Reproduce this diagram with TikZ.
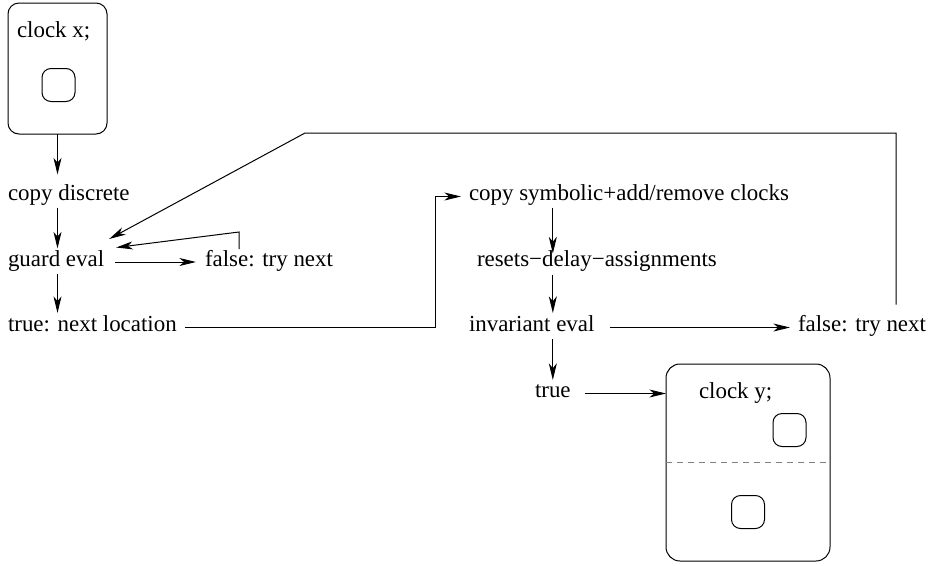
\documentclass[tikz,border=0pt]{standalone}
\usepackage{fontspec}
\setmainfont{Liberation Serif}
\usetikzlibrary{arrows.meta}
\newdimen\px \px=0.75pt
\begin{document}
\begin{tikzpicture}[x=0.75pt,y=-0.75pt,
  every node/.style={inner sep=0pt,outer sep=0pt},
  lbl/.style={anchor=base west,font=\rmfamily\fontsize{17.2}{20}\selectfont,
    text height=0.75em,text depth=0.15em},
  line/.style={line width=0.75pt},
  arr/.style={line,-{Stealth[length=12.5pt,width=6pt,inset=3.6pt]}},
  locbox/.style={draw,line width=0.75pt,rounded corners=11\px},
  loc/.style={draw,line width=0.75pt,rounded corners=9\px,minimum size=33\px}]
\useasboundingbox (0,0) rectangle (928,565);

% template with clock x
\node[locbox,minimum width=99\px,minimum height=131\px] (xbox) at (57.5,68.5) {};
\node[lbl] (xdecl) at (17,37) {clock x;};
\node[loc] (xloc) at (58.5,85) {};

% left column
\node[lbl] (cd) at (8,200.5) {copy discrete};
\node[lbl] (ge) at (8,266) {guard eval};
\node[lbl] (ft1) at (205,266) {false: try next};
\node[lbl] (tn) at (8,331.5) {true: next location};

% right column
\node[lbl] (cs) at (469,200.5) {copy symbolic+add/remove clocks};
\node[lbl] (rs) at (477,266.5) {resets\symbol{"2212}delay\symbol{"2212}assignments};
\node[lbl] (ie) at (469,331.5) {invariant eval};
\node[lbl] (ft2) at (798,331.5) {false: try next};
\node[lbl] (tr) at (535,397.5) {true};

% template with clock y
\node[locbox,rounded corners=14\px,minimum width=164\px,minimum height=197\px] (ybox) at (748,462.5) {};
\node[lbl] (ydecl) at (699,398.5) {clock y;};
\node[loc] (yloc1) at (789.5,430) {};
\node[loc] (yloc2) at (748,512) {};
\draw[line width=1pt,gray,dash pattern=on 5.5\px off 5.5\px] (ybox.west) -- (ybox.east);

% bend points of the back edges and of the jump to the next location
\coordinate (g1) at ([xshift=12\px,yshift=8.5\px]ge.north east);
\coordinate (g2) at ([xshift=5\px,yshift=17\px]ge.north east);
\coordinate (r1) at ([xshift=34\px,yshift=7\px]ft1.north west);
\coordinate (r2) at ([xshift=98\px,yshift=17\px]ft2.north west);
\coordinate (top) at (305,133);
\coordinate (jx) at (435,0);

% vertical steps
\draw[arr,shorten >=16\px] (xbox.south) -- (xbox.south |- cd.north);
\draw[arr,shorten <=5\px,shorten >=7.5\px] (xbox.south |- cd.south) -- (xbox.south |- ge.north);
\draw[arr,shorten <=5.5\px,shorten >=8.5\px] (xbox.south |- ge.south) -- (xbox.south |- tn.north);
\draw[arr,shorten <=5\px,shorten >=3\px] (tr.north |- cs.south) -- (tr.north |- rs.north);
\draw[arr,shorten <=6\px,shorten >=8.5\px] (tr.north |- rs.south) -- (tr.north |- ie.north);
\draw[arr,shorten <=5.5\px,shorten >=7.5\px] (tr.north |- ie.south) -- (tr.north);

% horizontal steps
\draw[arr,shorten <=11\px,shorten >=9\px] (ge.east) -- (ft1.west);
\draw[arr,shorten <=16\px,shorten >=8\px] (ie.east) -- (ft2.west);
\draw[arr,shorten <=14\px] (tr.east) -- (ybox.west |- tr.east);
\draw[arr,shorten >=8\px] ([xshift=8\px]tn.east) -- (jx |- tn.east) -- (jx |- cs.west) -- (cs.west);

% back edges to the guard evaluation
\draw[arr] (r1) -- ++(0,-17) -- (g1);
\draw[arr] (r2) -- (r2 |- top) -- (top) -- (g2);
\end{tikzpicture}
\end{document}
